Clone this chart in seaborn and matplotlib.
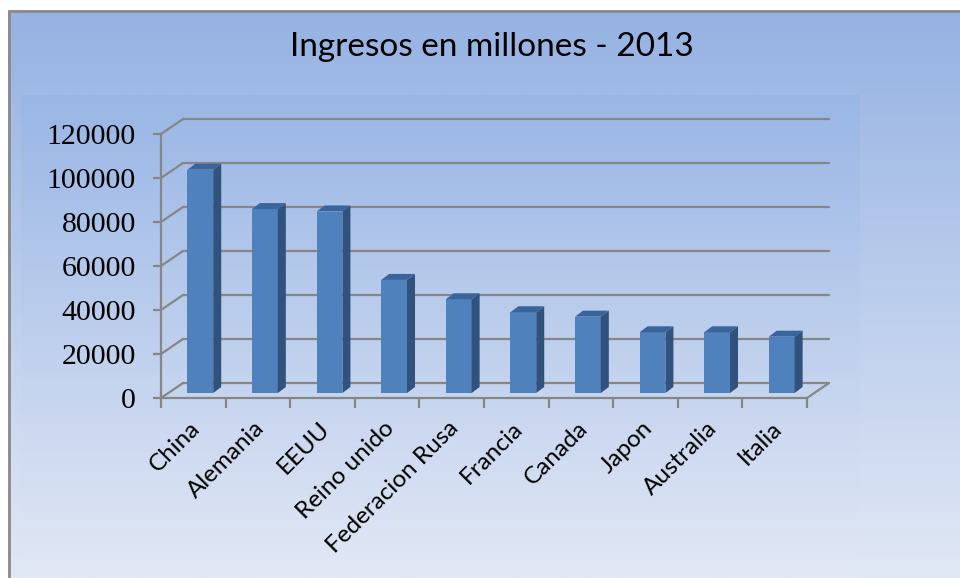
import numpy as np
import pandas as pd
import matplotlib
matplotlib.use("Agg")
import matplotlib.pyplot as plt
from matplotlib.patches import Polygon, Rectangle
from matplotlib.transforms import ScaledTranslation
import seaborn as sns

# ---------------- data ----------------
categories = ["China", "Alemania", "EEUU", "Reino unido", "Federacion Rusa",
              "Francia", "Canada", "Japon", "Australia", "Italia"]
values = [101500, 83600, 82500, 51400, 42600, 36700, 34700, 27600, 27600, 25600]
y_ticks = [0, 20000, 40000, 60000, 80000, 100000, 120000]
title = "Ingresos en millones - 2013"

df = pd.DataFrame({"pais": categories, "ingresos": values})

# ---------------- style ----------------
sns.set_theme(style="white")
plt.rcParams["font.family"] = ["Lato", "DejaVu Sans"]

W, H, DPI = 960, 578, 100
fig = plt.figure(figsize=(W / DPI, H / DPI), dpi=DPI)

# background (pixel coordinates)
bg = fig.add_axes([0, 0, 1, 1], zorder=-10)
bg.set_xlim(0, W)
bg.set_ylim(H, 0)
bg.axis("off")
bg.add_patch(Rectangle((0, 0), W, H, color="white"))

def vgrad(c1, c2, n=256):
    c1 = np.array(matplotlib.colors.to_rgb(c1))
    c2 = np.array(matplotlib.colors.to_rgb(c2))
    t = np.linspace(0, 1, n)[:, None]
    return (c1 * (1 - t) + c2 * t)[:, None, :]

bg.imshow(vgrad("#95b2e3", "#e1e8f5"), extent=(8, W, H, 10), aspect="auto",
          interpolation="bilinear", zorder=1)
bg.imshow(vgrad("#99b6e5", "#e2e8f5"), extent=(21, 860, H, 95), aspect="auto",
          interpolation="bilinear", zorder=2)
bg.plot([8.5, 8.5, W], [H, 10.5, 10.5], color="#8a8a8a", lw=2.0, zorder=3,
        solid_capstyle="butt")

# main axes = front plane of the 3D chart
x_left, x_right = 161, 807
y_zero, y_top = 398, 134
ax = fig.add_axes([x_left / W, 1 - y_zero / H,
                   (x_right - x_left) / W, (y_zero - y_top) / H])
ax.set_facecolor("none")
ax.set_xlim(-0.5, len(categories) - 0.5)
ax.set_ylim(0, 120000)

px_x = (x_right - x_left) / len(categories)       # pixels per category
px_y = (y_zero - y_top) / 120000                   # pixels per value unit

def dx(p):
    return p / px_x

def dy(p):
    return p / px_y

grid_c = "#868686"
wall_dx, wall_dy = dx(22), dy(15)

# back wall gridlines + left wall diagonals
for v in y_ticks:
    ax.plot([-0.5, -0.5 + wall_dx], [v, v + wall_dy], color=grid_c, lw=1.6,
            clip_on=False, zorder=1)
    ax.plot([-0.5 + wall_dx, len(categories) - 0.5 + wall_dx],
            [v + wall_dy, v + wall_dy], color=grid_c, lw=1.6, clip_on=False, zorder=1)
# floor right edge
ax.plot([len(categories) - 0.5, len(categories) - 0.5 + wall_dx], [0, wall_dy],
        color=grid_c, lw=1.6, clip_on=False, zorder=1)

# bars
bar_w = 0.40
sns.barplot(data=df, x="pais", y="ingresos", color="#4f81bd", width=bar_w,
            saturation=1, ax=ax, zorder=3)

shift_x, shift_y = dx(7), dy(5)
depth_x, depth_y = dx(8), dy(6)
for p in ax.patches:
    x0 = p.get_x() + shift_x
    w = p.get_width()
    h = p.get_height()
    p.set_x(x0)
    p.set_y(shift_y)
    p.set_edgecolor("none")
    p.set_clip_on(False)
    side = Polygon([(x0 + w, shift_y), (x0 + w, shift_y + h),
                    (x0 + w + depth_x, shift_y + h + depth_y),
                    (x0 + w + depth_x, shift_y + depth_y)],
                   closed=True, facecolor="#30527d", edgecolor="none",
                   zorder=3, clip_on=False)
    top = Polygon([(x0, shift_y + h), (x0 + w, shift_y + h),
                   (x0 + w + depth_x, shift_y + h + depth_y),
                   (x0 + depth_x, shift_y + h + depth_y)],
                  closed=True, facecolor="#3a649c", edgecolor="none",
                  zorder=3, clip_on=False)
    ax.add_patch(side)
    ax.add_patch(top)

# axes, ticks
for s in ["top", "right"]:
    ax.spines[s].set_visible(False)
for s in ["left", "bottom"]:
    ax.spines[s].set_color(grid_c)
    ax.spines[s].set_linewidth(1.6)
    ax.spines[s].set_zorder(5)

ax.set_yticks(y_ticks)
ax.set_yticklabels([str(v) for v in y_ticks], family=["Liberation Serif"],
                   fontsize=21.5, color="black")
ax.tick_params(axis="y", which="major", length=6, width=1.6, color=grid_c,
               direction="out", pad=12, left=True)

ax.set_xticks(np.arange(len(categories) + 1) - 0.5, minor=True)
ax.set_xticks(np.arange(len(categories)))
ax.tick_params(axis="x", which="minor", length=7, width=1.6, color=grid_c,
               direction="out", bottom=True)
ax.tick_params(axis="x", which="major", length=0, pad=14)
ax.set_xticklabels(categories, rotation=45, ha="right", va="top",
                   rotation_mode="anchor", fontsize=17.5, color="black")
shift = ScaledTranslation(-4 / DPI, 0, fig.dpi_scale_trans)
for lab in ax.get_xticklabels():
    lab.set_transform(lab.get_transform() + shift)
ax.set_xlabel("")
ax.set_ylabel("")

fig.text(492 / W, 1 - 47.5 / H, title, ha="center", va="center", fontsize=24,
         color="black")

fig.savefig("out.png", dpi=DPI)
